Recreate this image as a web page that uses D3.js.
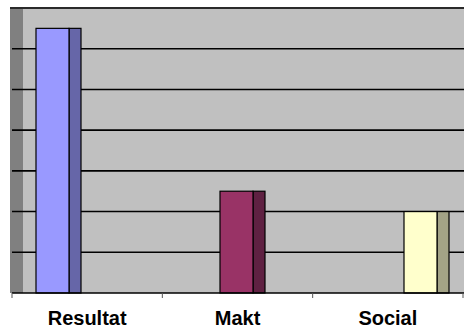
<!DOCTYPE html>
<html>
<head>
<meta charset="utf-8">
<script src="https://cdn.jsdelivr.net/npm/d3@7"></script>
<style>
  html, body { margin: 0; padding: 0; background: #fff; }
  svg { display: block; }
</style>
</head>
<body>
<script>
// Chart data
const categories = ["Resultat", "Makt", "Social"];
const values = [6.5, 2.5, 2];
const frontColors = ["#9999ff", "#993366", "#ffffcc"];
const sideColors = ["#6666a8", "#5f2142", "#a3a386"];
const yTicks = [1, 2, 3, 4, 5, 6];

const W = 464, H = 329;
const plot = { left: 12, right: 464, top: 8, bottom: 293 };
const wallLeft = 10, wallRight = 23;
const frontW = 33, sideW = 12;

const svg = d3.select("body").append("svg")
  .attr("width", W).attr("height", H);

const y = d3.scaleLinear().domain([0, 7]).range([plot.bottom, plot.top]);
// category bands along the floor (labels, ticks)
const xBand = d3.scaleBand().domain(categories).range([12, 463]);
// front-face left edge of each column in the oblique view
const xBar = d3.scalePoint().domain(categories).range([36, 404]);

// back wall
svg.append("rect")
  .attr("x", wallRight).attr("y", plot.top)
  .attr("width", plot.right - wallRight).attr("height", plot.bottom - plot.top)
  .attr("fill", "#c0c0c0");
// side wall
svg.append("rect")
  .attr("x", wallLeft).attr("y", plot.top)
  .attr("width", wallRight - wallLeft).attr("height", plot.bottom - plot.top)
  .attr("fill", "#808080");

// gridlines
svg.append("g").selectAll("line").data(yTicks).join("line")
  .attr("x1", plot.left).attr("x2", plot.right)
  .attr("y1", d => y(d)).attr("y2", d => y(d))
  .attr("stroke", "#000").attr("stroke-width", 1.6);

// top edge of the wall
svg.append("line")
  .attr("x1", wallLeft).attr("x2", plot.right)
  .attr("y1", y(7)).attr("y2", y(7))
  .attr("stroke", "#2a2a2a").attr("stroke-width", 2);

// columns
const bars = svg.append("g").selectAll("g").data(categories).join("g");
bars.append("rect")
  .attr("x", d => xBar(d) + frontW)
  .attr("y", (d, i) => y(values[i]))
  .attr("width", sideW)
  .attr("height", (d, i) => y(0) - y(values[i]))
  .attr("fill", (d, i) => sideColors[i])
  .attr("stroke", "#000").attr("stroke-width", 1.2);
bars.append("rect")
  .attr("x", d => xBar(d))
  .attr("y", (d, i) => y(values[i]))
  .attr("width", frontW)
  .attr("height", (d, i) => y(0) - y(values[i]))
  .attr("fill", (d, i) => frontColors[i])
  .attr("stroke", "#000").attr("stroke-width", 1.2);

// x axis
const xAxis = d3.axisBottom(xBand).tickSize(0).tickPadding(0);
const gx = svg.append("g").attr("transform", `translate(0,${plot.bottom})`).call(xAxis);
gx.select(".domain").remove();
gx.selectAll(".tick line").remove();
gx.selectAll(".tick text")
  .attr("y", 32).attr("dy", 0)
  .attr("font-family", "'Liberation Sans', Arial, sans-serif")
  .attr("font-size", 20).attr("font-weight", "bold").attr("fill", "#000");

svg.append("line")
  .attr("x1", plot.left).attr("x2", plot.right)
  .attr("y1", plot.bottom).attr("y2", plot.bottom)
  .attr("stroke", "#000").attr("stroke-width", 1.5);

// category boundary ticks
const bounds = categories.map(c => xBand(c)).concat([xBand.range()[1]]);
svg.append("g").selectAll("line").data(bounds).join("line")
  .attr("x1", d => d).attr("x2", d => d)
  .attr("y1", plot.bottom).attr("y2", plot.bottom + 5)
  .attr("stroke", "#555").attr("stroke-width", 1);
</script>
</body>
</html>
